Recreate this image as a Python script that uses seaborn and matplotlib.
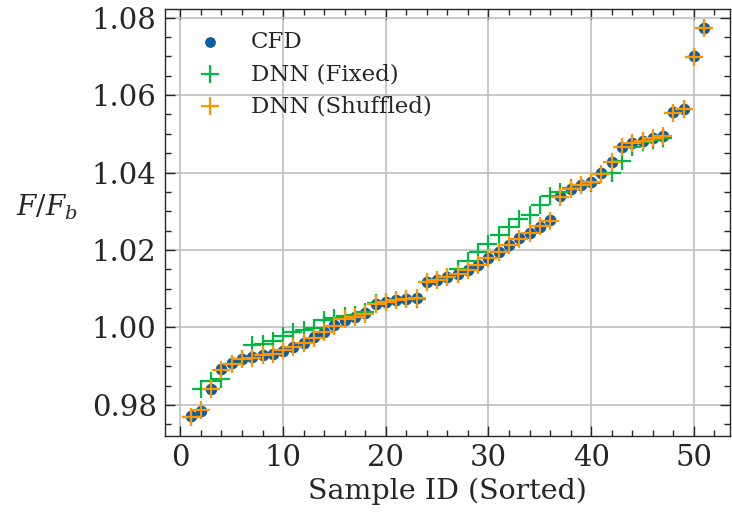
import numpy as np
import pandas as pd
import matplotlib
matplotlib.use("Agg")
import matplotlib.pyplot as plt
import seaborn as sns
from matplotlib.ticker import MultipleLocator

sample_id = list(range(1, 52))

cfd = [0.9772, 0.9784, 0.9841, 0.9893, 0.9909, 0.9918, 0.9923, 0.9929, 0.9932, 0.9940,
       0.9950, 0.9960, 0.9975, 0.9988, 1.0006, 1.0020, 1.0027, 1.0037, 1.0060, 1.0065,
       1.0070, 1.0073, 1.0075, 1.0118, 1.0122, 1.0131, 1.0139, 1.0148, 1.0160, 1.0180,
       1.0195, 1.0212, 1.0230, 1.0243, 1.0260, 1.0277, 1.0339, 1.0358, 1.0368, 1.0376,
       1.0398, 1.0426, 1.0466, 1.0475, 1.0482, 1.0490, 1.0495, 1.0555, 1.0565, 1.0700,
       1.0772]

dnn_fixed = [0.9770, 0.9841, 0.9862, 0.9868, 0.9905, 0.9918, 0.9955, 0.9958, 0.9965, 0.9978,
             0.9988, 0.9993, 0.9998, 1.0019, 1.0025, 1.0030, 1.0033, 1.0040, 1.0062, 1.0066,
             1.0070, 1.0073, 1.0074, 1.0118, 1.0122, 1.0131, 1.0150, 1.0172, 1.0195, 1.0215,
             1.0240, 1.0260, 1.0280, 1.0290, 1.0315, 1.0340, 1.0350, 1.0360, 1.0368, 1.0374,
             1.0395, 1.0400, 1.0429, 1.0465, 1.0478, 1.0485, 1.0490, 1.0553, 1.0565, 1.0697,
             1.0772]

dnn_shuffled = [0.9770, 0.9786, 0.9840, 0.9890, 0.9907, 0.9918, 0.9922, 0.9930, 0.9932, 0.9941,
                0.9950, 0.9961, 0.9974, 0.9989, 1.0005, 1.0021, 1.0027, 1.0036, 1.0061, 1.0065,
                1.0070, 1.0073, 1.0075, 1.0117, 1.0122, 1.0130, 1.0139, 1.0149, 1.0160, 1.0179,
                1.0196, 1.0212, 1.0229, 1.0243, 1.0261, 1.0276, 1.0338, 1.0358, 1.0367, 1.0376,
                1.0397, 1.0426, 1.0465, 1.0475, 1.0482, 1.0489, 1.0495, 1.0553, 1.0564, 1.0698,
                1.0772]

sns.set_style("ticks")
plt.rcParams['font.family'] = ['DejaVu Serif']
plt.rcParams['mathtext.fontset'] = 'dejavuserif'

fig = plt.figure(figsize=(7.32, 5.17), dpi=100)
ax = fig.add_axes([0.2254, 0.1567, 0.7716, 0.8259])

sns.scatterplot(x=sample_id, y=cfd, ax=ax, color='#0C5DA5', s=70, linewidth=0,
                marker='o', label='CFD', zorder=3)
sns.scatterplot(x=sample_id, y=dnn_fixed, ax=ax, color='#00B945', s=160, linewidth=1.6,
                marker='+', label='DNN (Fixed)', zorder=4)
sns.scatterplot(x=sample_id, y=dnn_shuffled, ax=ax, color='#FF9500', s=160, linewidth=1.6,
                marker='+', label='DNN (Shuffled)', zorder=5)

ax.set_xlabel('Sample ID (Sorted)', fontsize=20.5, labelpad=4)
ax.set_ylabel(r'$F/F_b$', fontsize=20, rotation=0)
ax.yaxis.set_label_coords(-0.21, 0.50)

ax.xaxis.set_major_locator(MultipleLocator(10))
ax.xaxis.set_minor_locator(MultipleLocator(2))
ax.yaxis.set_major_locator(MultipleLocator(0.02))
ax.yaxis.set_minor_locator(MultipleLocator(0.005))
ax.yaxis.set_major_formatter(matplotlib.ticker.FormatStrFormatter('%.2f'))

ax.tick_params(which='both', direction='in', top=True, right=True, labelsize=21, width=1)
ax.tick_params(which='major', length=7, pad=6)
ax.tick_params(which='minor', length=4)
for sp in ax.spines.values():
    sp.set_linewidth(1)

ax.grid(True, which='major', color='#bfbfbf', linewidth=1.2)
ax.set_axisbelow(True)

leg = ax.legend(loc='upper left', frameon=False, fontsize=16.5, handletextpad=0.8,
                borderaxespad=0.45, labelspacing=0.45, borderpad=0.5)
for h in leg.legend_handles:
    h.set_sizes([150])
leg.legend_handles[0].set_sizes([60])

fig.savefig('out.png', dpi=100)
